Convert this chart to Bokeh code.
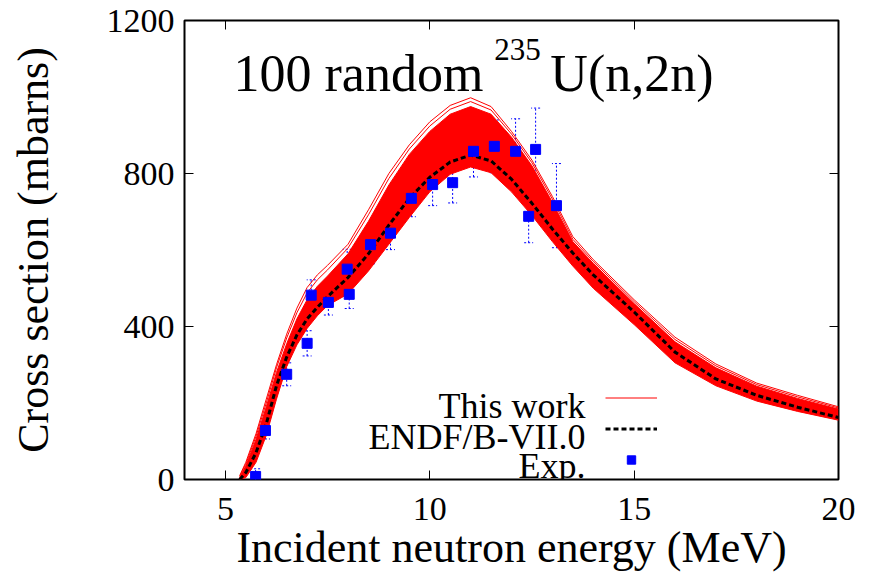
from bokeh.plotting import figure
from bokeh.models import (ColumnDataSource, Whisker, TeeHead, Label, Legend, LegendItem,
                          LinearAxis, FixedTicker, Range1d, CustomLabelingPolicy)
from bokeh.embed import file_html
from bokeh.resources import INLINE

# ---------------- data ----------------
energy = [5.35, 5.5, 5.75, 6.0, 6.25, 6.5, 6.75, 7.0, 7.25, 7.5, 8.0, 8.5, 9.0, 9.5,
          10.0, 10.5, 11.0, 11.5, 12.0, 12.5, 13.0, 13.5, 14.0, 15.0, 16.0, 17.0,
          18.0, 19.0, 20.0]
endf = [0, 18, 70, 145, 245, 320, 378, 420, 450, 478, 528, 590, 665, 735,
        790, 830, 848, 833, 785, 722, 655, 592, 535, 438, 333, 263,
        220, 189, 162]
band_outer = [10, 45, 120, 210, 300, 380, 448, 502, 535, 560, 615, 705, 800, 875,
              935, 978, 998, 975, 910, 835, 740, 635, 575, 470, 372, 302,
              252, 220, 190]
band_second = [8, 40, 113, 200, 292, 370, 436, 488, 522, 548, 605, 692, 787, 864,
               924, 968, 988, 966, 903, 828, 733, 628, 570, 465, 366, 297,
               248, 216, 187]
band_upper = [5, 35, 105, 190, 280, 355, 420, 470, 505, 532, 590, 675, 770, 850,
              910, 955, 975, 955, 895, 820, 725, 622, 565, 460, 360, 292,
              244, 212, 184]
band_lower = [0, 5, 45, 115, 210, 295, 352, 395, 428, 455, 485, 545, 615, 685,
              752, 798, 817, 802, 752, 690, 622, 558, 500, 405, 305, 245,
              205, 178, 155]

exp_energy = [5.74, 5.98, 6.50, 7.00, 7.10, 7.52, 7.98, 8.03, 8.55, 9.04, 9.55,
              10.07, 10.56, 11.07, 11.58, 12.10, 12.42, 12.59, 13.10]
exp_xs = [8, 128, 275, 356, 482, 463, 550, 484, 614, 644, 735,
          771, 776, 858, 871, 858, 688, 863, 716]
exp_err = [20, 22, 30, 33, 40, 33, 52, 37, 50, 43, 48,
           55, 53, 67, 69, 85, 69, 108, 110]

x_ticks = [5, 10, 15, 20]
y_ticks = [0, 400, 800, 1200]

title_main = "100 random"
title_sup = "235"
title_rest = "U(n,2n)"
legend_labels = ["This work", "ENDF/B-VII.0", "Exp."]
x_label = "Incident neutron energy (MeV)"
y_label = "Cross section (mbarns)"

FONT = "Liberation Serif"
RED = "#ff0000"
BLUE = "#0000ff"

# ---------------- figure ----------------
p = figure(width=870, height=577, x_range=Range1d(4, 20), y_range=Range1d(0, 1200),
           output_backend="svg", toolbar_location=None,
           min_border_left=184, min_border_right=32, min_border_top=20,
           min_border_bottom=98)
p.background_fill_color = "white"
p.border_fill_color = "white"
p.grid.visible = False
p.outline_line_color = "black"
p.outline_line_width = 2

# red band of the 100 random evaluations
p.varea(x=energy, y1=band_lower, y2=band_upper, fill_color=RED)
red_src = ColumnDataSource(dict(xs=[energy] * 4,
                                ys=[band_outer, band_second, band_upper, band_lower]))
red_r = p.multi_line(xs="xs", ys="ys", source=red_src, line_color=RED, line_width=1)

# ENDF/B-VII.0
endf_r = p.line(energy, endf, line_color="black", line_width=3, line_dash="5 3")

# experimental data
exp_src = ColumnDataSource(dict(
    x=exp_energy, y=exp_xs,
    lo=[v - e for v, e in zip(exp_xs, exp_err)],
    hi=[v + e for v, e in zip(exp_xs, exp_err)]))
wh = Whisker(base="x", upper="hi", lower="lo", source=exp_src,
             line_color=BLUE, line_width=1, line_dash="2 2",
             upper_head=TeeHead(size=9, line_color=BLUE, line_width=1, line_dash="2 2"),
             lower_head=TeeHead(size=9, line_color=BLUE, line_width=1, line_dash="2 2"))
p.add_layout(wh)
exp_r = p.scatter(x="x", y="y", source=exp_src, marker="square", size=10,
                  fill_color=BLUE, line_color=BLUE)

# ---------------- axes ----------------
for ax in (p.xaxis[0], p.yaxis[0]):
    ax.major_tick_in = 9
    ax.major_tick_out = 0
    ax.minor_tick_line_color = None
    ax.axis_line_color = None
    ax.major_tick_line_color = "black"
    ax.major_label_text_font = FONT
    ax.major_label_text_font_size = "34px"
    ax.major_label_text_color = "black"
    ax.axis_label_text_font = FONT
    ax.axis_label_text_font_size = "44px"
    ax.axis_label_text_font_style = "normal"
    ax.axis_label_text_color = "black"

p.xaxis.ticker = FixedTicker(ticks=x_ticks)
p.yaxis.ticker = FixedTicker(ticks=y_ticks)
p.xaxis.axis_label = x_label
p.yaxis.axis_label = y_label
p.xaxis.major_label_standoff = 18
p.yaxis.major_label_standoff = 10
p.xaxis.axis_label_standoff = 0
p.yaxis.axis_label_standoff = 46

no_labels = CustomLabelingPolicy(code="for (const i of Array.from(indices)) { indices.unset(i) }; return indices")
top_ax = LinearAxis(ticker=FixedTicker(ticks=x_ticks), major_tick_in=9, major_tick_out=0,
                    minor_tick_line_color=None, axis_line_color=None,
                    major_label_policy=no_labels)
right_ax = LinearAxis(ticker=FixedTicker(ticks=y_ticks), major_tick_in=9, major_tick_out=0,
                      minor_tick_line_color=None, axis_line_color=None,
                      major_label_policy=no_labels)
p.add_layout(top_ax, "above")
p.add_layout(right_ax, "right")

# ---------------- title inside the frame ----------------
p.add_layout(Label(x=5.2, y=1061, text=title_main, text_font=FONT,
                   text_font_size="52px", text_color="black", text_baseline="alphabetic"))
p.add_layout(Label(x=11.58, y=1124, text=title_sup, text_font=FONT,
                   text_font_size="31px", text_color="black", text_baseline="alphabetic"))
p.add_layout(Label(x=12.95, y=1061, text=title_rest, text_font=FONT,
                   text_font_size="52px", text_color="black", text_baseline="alphabetic"))

# ---------------- legend: samples from Bokeh, texts to their left ----------------
legend = Legend(items=[LegendItem(label="", renderers=[red_r]),
                       LegendItem(label="", renderers=[endf_r]),
                       LegendItem(label="", renderers=[exp_r])],
                location=(421, 9), padding=0, margin=0, spacing=10,
                glyph_width=52, glyph_height=21, label_standoff=0,
                label_height=21, label_width=0, label_text_font_size="10px",
                border_line_color=None, background_fill_alpha=0)
p.add_layout(legend)

for txt, yv in zip(legend_labels, [193, 110, 34]):
    p.add_layout(Label(x=13.81, y=yv, text=txt, text_font=FONT, text_font_size="36px",
                       text_color="black", text_align="right", text_baseline="alphabetic"))

open("out.html", "w").write(file_html(p, INLINE))
